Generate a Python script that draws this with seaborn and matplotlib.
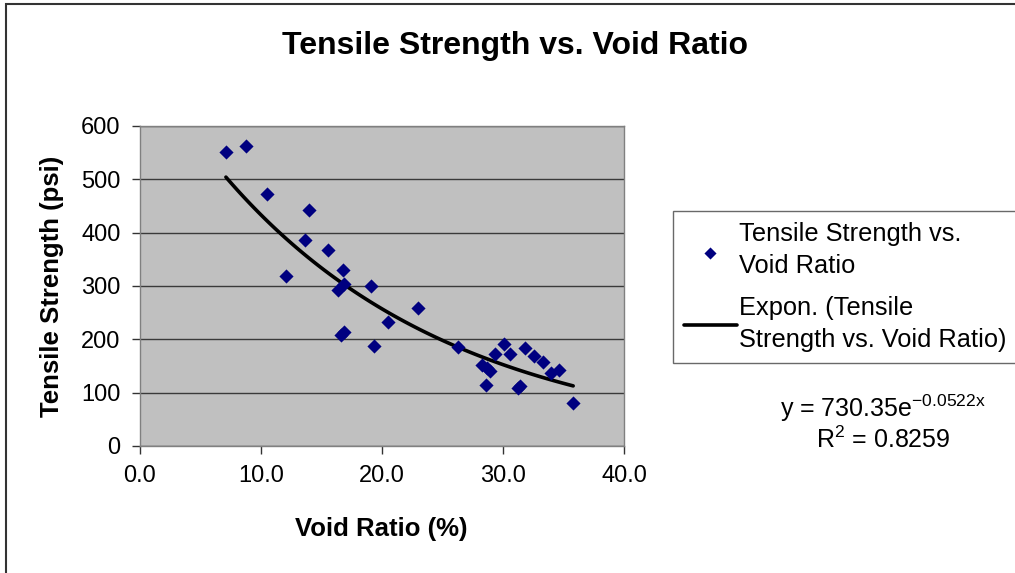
import numpy as np
import pandas as pd
import matplotlib
matplotlib.use('Agg')
import matplotlib.pyplot as plt
import matplotlib.patches as patches
import seaborn as sns

# Dados
void_ratio = [7.1, 8.8, 10.5, 12.1, 13.6, 14.0, 15.5, 16.4, 16.6, 16.8, 16.9, 16.9,
              19.1, 19.3, 20.5, 23.0, 26.3, 28.3, 28.6, 28.7, 28.9, 29.3, 30.1,
              30.6, 31.2, 31.4, 31.8, 32.6, 33.3, 34.0, 34.6, 35.8]
tensile_strength = [551, 563, 473, 319, 387, 443, 368, 293, 208, 330, 214, 304,
                    300, 187, 232, 258, 186, 152, 115, 146, 141, 172, 192,
                    172, 108, 112, 183, 169, 157, 136, 143, 81]

# Linha de tendência exponencial (coeficientes mostrados no gráfico)
trend_a = 730.35
trend_b = -0.0522

x_ticks = [0, 10, 20, 30, 40]
y_ticks = [0, 100, 200, 300, 400, 500, 600]

df = pd.DataFrame({'void': void_ratio, 'strength': tensile_strength})
x_trend = np.linspace(min(void_ratio), max(void_ratio), 100)
df_trend = pd.DataFrame({'void': x_trend, 'strength': trend_a * np.exp(trend_b * x_trend)})

sns.set_theme(style='white')
plt.rcParams['font.family'] = ['Liberation Sans', 'DejaVu Sans']
plt.rcParams['mathtext.default'] = 'regular'
plt.rcParams['text.color'] = 'black'
plt.rcParams['axes.labelcolor'] = 'black'
plt.rcParams['xtick.color'] = 'black'
plt.rcParams['ytick.color'] = 'black'

fig = plt.figure(figsize=(10.15, 5.73), dpi=100)
ax = fig.add_axes([140 / 1015, 1 - 446 / 573, 484 / 1015, 320 / 573])
ax.set_facecolor('#C0C0C0')

sns.scatterplot(data=df, x='void', y='strength', marker='D', s=52, color='#000080',
                linewidth=0, ax=ax, label='Tensile Strength vs.\nVoid Ratio', zorder=3)
sns.lineplot(data=df_trend, x='void', y='strength', color='black', linewidth=2.6,
             ax=ax, label='Expon. (Tensile\nStrength vs. Void Ratio)', zorder=2)

ax.set_xlim(0, 40)
ax.set_ylim(0, 600)
ax.set_xticks(x_ticks)
ax.set_xticklabels([f'{t:.1f}' for t in x_ticks])
ax.set_yticks(y_ticks)
ax.set_yticklabels([str(t) for t in y_ticks])
ax.tick_params(axis='both', direction='out', length=6, width=1, color='#333333',
               labelsize=17, pad=8, bottom=True, left=True)
ax.yaxis.grid(True, color='#3a3a3a', linewidth=1)
ax.set_axisbelow(True)
for sp in ax.spines.values():
    sp.set_color('#808080')
    sp.set_linewidth(1)

ax.set_xlabel('Void Ratio (%)', fontsize=18.5, fontweight='bold')
ax.set_ylabel('Tensile Strength (psi)', fontsize=18.5, fontweight='bold')
ax.xaxis.set_label_coords(0.498, -0.26)
ax.xaxis.label.set_va('center')
ax.yaxis.set_label_coords(-0.182, 0.5)
ax.yaxis.label.set_va('center')

fig.text(515 / 1015, 1 - 46 / 573, 'Tensile Strength vs. Void Ratio', ha='center', va='center',
         fontsize=23, fontweight='bold')

leg = ax.legend(loc='upper left', bbox_to_anchor=(673 / 1015, 1 - 211 / 573),
                bbox_transform=fig.transFigure, fontsize=18.3, frameon=True, fancybox=False,
                edgecolor='#444444', borderaxespad=0, handlelength=2.05, handletextpad=0.08,
                labelspacing=0.72, borderpad=0.45)
leg.get_frame().set_linewidth(1)
for t in leg.get_texts():
    t.set_linespacing(1.4)
leg.legend_handles[0].set_sizes([38])

fig.text(883 / 1015, 1 - 408 / 573, 'y = 730.35e$^{-0.0522x}$', ha='center', va='center', fontsize=18)
fig.text(883 / 1015, 1 - 440 / 573, 'R$^{2}$ = 0.8259', ha='center', va='center', fontsize=18)

# Borda do gráfico inteiro
fig.patches.append(patches.Rectangle((6 / 1015, -0.1), 1.2, 1.1 - 4 / 573, transform=fig.transFigure,
                                     fill=False, edgecolor='#333333', linewidth=1.5))

fig.savefig('out.png', dpi=100)
